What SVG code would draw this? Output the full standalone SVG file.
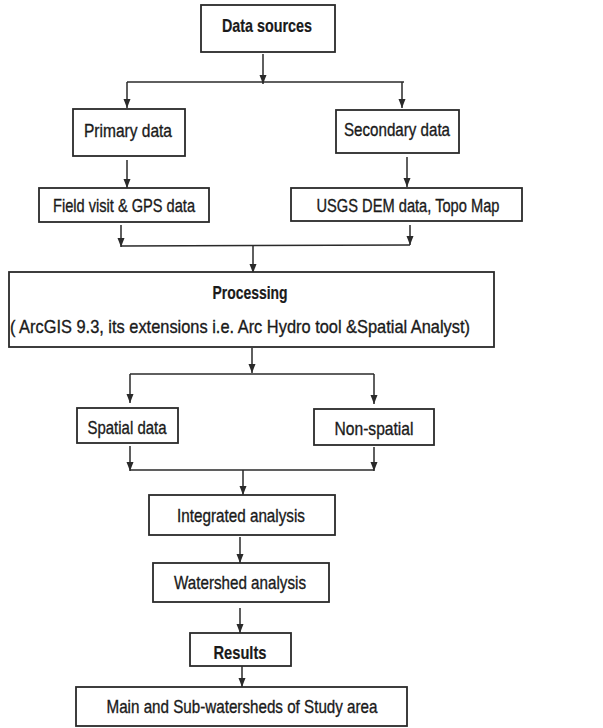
<svg xmlns="http://www.w3.org/2000/svg" width="603" height="728" viewBox="0 0 603 728">
<style>
.box{fill:#fff;stroke:#2a2a2a;stroke-width:1.8}
.t{font-family:"Liberation Sans Narrow","Liberation Sans",Arial,sans-serif;font-size:19px;fill:#1a1a1a;text-anchor:middle;stroke:#1a1a1a;stroke-width:0.35}
.b{font-weight:bold;stroke-width:0.2}
.c{fill:none;stroke:#2a2a2a;stroke-width:1.5}
</style>
<defs>
<marker id="ah" markerUnits="userSpaceOnUse" markerWidth="12" markerHeight="10" refX="9" refY="3.5" orient="auto">
<path d="M0,0 L9,3.5 L0,7 Z" fill="#2a2a2a"/>
</marker>
</defs>
<rect width="603" height="728" fill="#fff"/>
<g id="connectors">
<line class="c" x1="263" y1="54" x2="263" y2="84" marker-end="url(#ah)"/>
<line class="c" x1="127" y1="82" x2="404" y2="82"/>
<line class="c" x1="127" y1="82" x2="127" y2="108" marker-end="url(#ah)"/>
<line class="c" x1="402" y1="82" x2="402" y2="108" marker-end="url(#ah)"/>
<line class="c" x1="127" y1="160" x2="127" y2="188" marker-end="url(#ah)"/>
<line class="c" x1="407" y1="157" x2="407" y2="187" marker-end="url(#ah)"/>
<line class="c" x1="121" y1="225" x2="121" y2="247" marker-end="url(#ah)"/>
<line class="c" x1="410" y1="225" x2="410" y2="245" marker-end="url(#ah)"/>
<line class="c" x1="121" y1="246" x2="410" y2="245"/>
<line class="c" x1="253" y1="245" x2="253" y2="273" marker-end="url(#ah)"/>
<line class="c" x1="252" y1="348" x2="252" y2="373" marker-end="url(#ah)"/>
<line class="c" x1="130" y1="374" x2="374" y2="374"/>
<line class="c" x1="130" y1="374" x2="130" y2="403" marker-end="url(#ah)"/>
<line class="c" x1="374" y1="374" x2="374" y2="404" marker-end="url(#ah)"/>
<line class="c" x1="130" y1="446" x2="130" y2="471" marker-end="url(#ah)"/>
<line class="c" x1="374" y1="447" x2="374" y2="471" marker-end="url(#ah)"/>
<line class="c" x1="130" y1="470" x2="374" y2="470"/>
<line class="c" x1="243" y1="470" x2="243" y2="495" marker-end="url(#ah)"/>
<line class="c" x1="240" y1="537" x2="240" y2="563" marker-end="url(#ah)"/>
<line class="c" x1="240" y1="608" x2="240" y2="633" marker-end="url(#ah)"/>
<line class="c" x1="242" y1="666" x2="242" y2="687" marker-end="url(#ah)"/>
</g>
<g id="data-sources"><rect class="box" x="201" y="5" width="134" height="47"/><text class="t b" x="267" y="32" textLength="90" lengthAdjust="spacingAndGlyphs">Data sources</text></g>
<g id="primary-data"><rect class="box" x="73" y="109" width="112" height="47"/><text class="t" x="128" y="137" textLength="88" lengthAdjust="spacingAndGlyphs">Primary data</text></g>
<g id="secondary-data"><rect class="box" x="336" y="110" width="123" height="43"/><text class="t" x="397" y="136" textLength="106" lengthAdjust="spacingAndGlyphs">Secondary data</text></g>
<g id="field-visit"><rect class="box" x="39" y="188" width="170" height="34"/><text class="t" x="124" y="212" textLength="142" lengthAdjust="spacingAndGlyphs">Field visit &amp; GPS data</text></g>
<g id="usgs-dem"><rect class="box" x="291" y="188" width="231" height="33"/><text class="t" x="408" y="212" textLength="183" lengthAdjust="spacingAndGlyphs">USGS DEM data, Topo Map</text></g>
<g id="processing"><rect class="box" x="9" y="272" width="485" height="75"/><text class="t b" x="250" y="299" textLength="75" lengthAdjust="spacingAndGlyphs">Processing</text><text class="t" x="240" y="333" textLength="460" lengthAdjust="spacingAndGlyphs">( ArcGIS 9.3, its extensions i.e. Arc Hydro tool &amp;Spatial Analyst)</text></g>
<g id="spatial-data"><rect class="box" x="77" y="408" width="101" height="35"/><text class="t" x="127" y="434" textLength="79" lengthAdjust="spacingAndGlyphs">Spatial data</text></g>
<g id="non-spatial"><rect class="box" x="314" y="409" width="120" height="36"/><text class="t" x="374" y="435" textLength="79" lengthAdjust="spacingAndGlyphs">Non-spatial</text></g>
<g id="integrated-analysis"><rect class="box" x="149" y="495" width="186" height="40"/><text class="t" x="241" y="522" textLength="128" lengthAdjust="spacingAndGlyphs">Integrated analysis</text></g>
<g id="watershed-analysis"><rect class="box" x="153" y="563" width="176" height="39"/><text class="t" x="240" y="589" textLength="132" lengthAdjust="spacingAndGlyphs">Watershed analysis</text></g>
<g id="results"><rect class="box" x="190" y="633" width="101" height="33"/><text class="t b" x="240" y="659" textLength="53" lengthAdjust="spacingAndGlyphs">Results</text></g>
<g id="main-sub-watersheds"><rect class="box" x="76" y="687" width="331" height="39"/><text class="t" x="242" y="713" textLength="271" lengthAdjust="spacingAndGlyphs">Main and Sub-watersheds of Study area</text></g>
</svg>
